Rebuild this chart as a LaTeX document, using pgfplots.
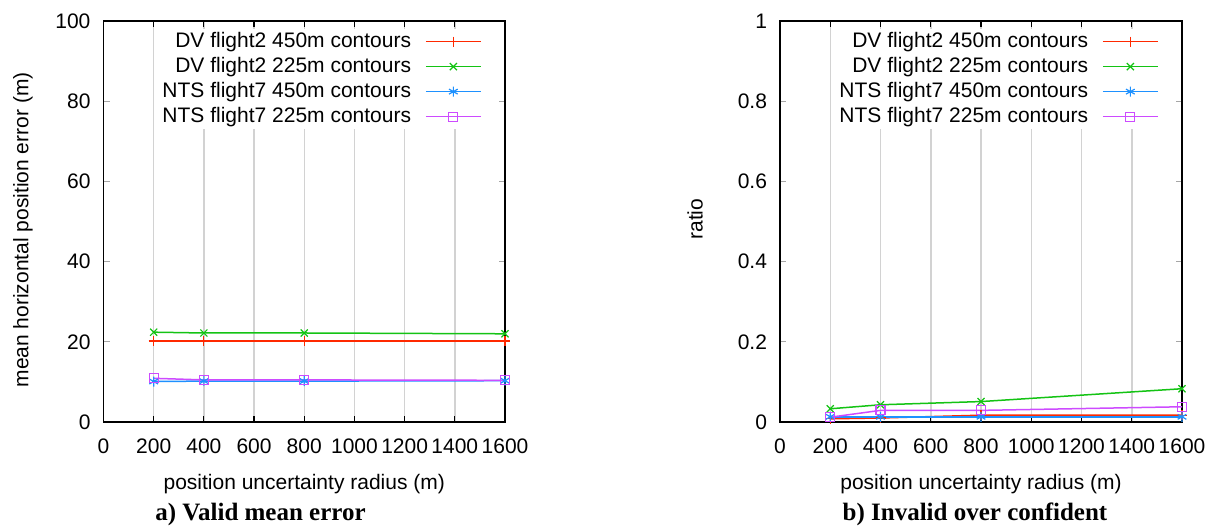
\documentclass[border=0pt]{standalone}
\usepackage{pgfplots}
\pgfplotsset{compat=1.18}
\usepackage{fontspec}
\setmainfont{Liberation Sans}
\newfontfamily\capfont{Liberation Serif}
\definecolor{gpred}{rgb}{1,0.16,0}
\definecolor{gpgreen}{RGB}{20,195,20}
\definecolor{gpblue}{RGB}{30,145,255}
\definecolor{gpmag}{RGB}{205,75,255}
\pgfplotsset{
  myax/.style={
    scale only axis, width=200.75pt, height=200.5pt,
    xmin=0, xmax=1600,
    xtick={0,200,400,600,800,1000,1200,1400,1600},
    xmajorgrids, ymajorgrids=false,
    major grid style={gray!35, line width=0.75pt},
    axis line style={black, line width=0.9pt},
    xtick style={black, line width=0.6pt},
    ytick style={gray!70, line width=0.6pt},
    major tick length=3pt,
    tick align=inside,
    /pgf/number format/assume math mode=true,
    /pgf/number format/.cd, 1000 sep={}, /pgfplots/.cd,
    tick label style={font=\fontsize{10.5}{12}\selectfont},
    xticklabel style={anchor=base, yshift=-15.5pt},
    yticklabel style={xshift=-3pt},
    label style={font=\fontsize{10.5}{12}\selectfont},
    xlabel={position uncertainty radius (m)},
    xlabel style={at={(rel axis cs:0.5,0)}, anchor=base, yshift=-33.5pt},
    clip=false,
    legend plot pos=right,
    legend cell align=right,
    legend style={draw=none, fill=white, at={(rel axis cs:1,1)}, anchor=north east,
      xshift=-8.5pt, yshift=-3.85pt, inner xsep=3pt, inner ysep=0pt,
      row sep=0pt, column sep=7pt,
      font=\fontsize{10.5}{12}\selectfont,
      nodes={inner sep=0pt, text height=9pt, text depth=3.5pt}},
    legend image code/.code={\draw[mark repeat=2,mark phase=2] plot coordinates {(0pt,0pt)(13.75pt,0pt)(27.5pt,0pt)};},
    redp/.style={draw=gpred, line width=0.75pt, mark=+, mark size=2.5pt, mark options={solid, draw=gpred, line width=0.6pt}},
    greenp/.style={draw=gpgreen, line width=0.75pt, mark=x, mark size=2.5pt, mark options={solid, draw=gpgreen, line width=0.6pt}},
    bluep/.style={draw=gpblue, line width=0.75pt, mark=asterisk, mark size=2.5pt, mark options={solid, draw=gpblue, line width=0.6pt}},
    magp/.style={draw=gpmag, line width=0.75pt, mark=square, mark size=2.25pt, mark options={solid, draw=gpmag, line width=0.6pt}},
  }
}
\begin{document}
\begin{tikzpicture}
\useasboundingbox (0,0) rectangle (606.5pt,263.5pt);
\begin{axis}[myax, at={(51.75pt,52.5pt)}, anchor=south west,
  ymin=0, ymax=100, ytick={0,20,40,60,80,100},
  ylabel={mean horizontal position error (m)},
  ylabel style={at={([xshift=-40.25pt]rel axis cs:0,0.479)}, anchor=center}]
\addplot[redp] coordinates {(200,20.2)(400,20.2)(800,20.2)(1600,20.2)};
\addlegendentry{DV flight2 450m contours}
\addplot[greenp] coordinates {(200,22.4)(400,22.2)(800,22.2)(1600,22.0)};
\addlegendentry{DV flight2 225m contours}
\addplot[bluep] coordinates {(200,10.1)(400,10.2)(800,10.2)(1600,10.3)};
\addlegendentry{NTS flight7 450m contours}
\addplot[magp] coordinates {(200,10.9)(400,10.5)(800,10.5)(1600,10.4)};
\addlegendentry{NTS flight7 225m contours}
\node[anchor=base, font=\capfont\bfseries\fontsize{12.5}{14}\selectfont] at (rel axis cs:0.391,0) [yshift=-49pt] {a) Valid mean error};
\end{axis}
\begin{axis}[myax, at={(390pt,52.5pt)}, anchor=south west, width=201pt,
  ymin=0, ymax=1, ytick={0,0.2,0.4,0.6,0.8,1},
  ylabel={ratio},
  ylabel style={at={([xshift=-42.5pt]rel axis cs:0,0.506)}, anchor=center}]
\addplot[redp] coordinates {(200,0.008)(400,0.010)(800,0.017)(1600,0.017)};
\addlegendentry{DV flight2 450m contours}
\addplot[greenp] coordinates {(200,0.033)(400,0.043)(800,0.051)(1600,0.083)};
\addlegendentry{DV flight2 225m contours}
\addplot[bluep] coordinates {(200,0.013)(400,0.013)(800,0.013)(1600,0.013)};
\addlegendentry{NTS flight7 450m contours}
\addplot[magp] coordinates {(200,0.012)(400,0.029)(800,0.029)(1600,0.038)};
\addlegendentry{NTS flight7 225m contours}
\node[anchor=base, font=\capfont\bfseries\fontsize{12.5}{14}\selectfont] at (rel axis cs:0.485,0) [yshift=-49pt] {b) Invalid over confident};
\end{axis}
\end{tikzpicture}
\end{document}
